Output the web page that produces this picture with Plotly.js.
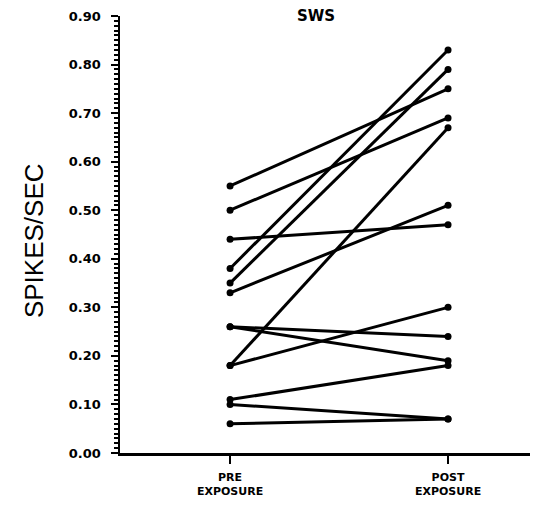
<!DOCTYPE html>
<html><head><meta charset="utf-8">
<script src="https://cdn.plot.ly/plotly-3.0.1.min.js"></script>
<style>html,body{margin:0;padding:0;background:#fff}#chart{width:550px;height:514px}</style>
</head><body><div id="chart"></div>
<script>
const categories = ['PRE<br>EXPOSURE', 'POST<br>EXPOSURE'];
const preValues  = [0.55, 0.50, 0.44, 0.38, 0.35, 0.33, 0.26, 0.26, 0.18, 0.18, 0.11, 0.10, 0.06];
const postValues = [0.75, 0.69, 0.47, 0.83, 0.79, 0.51, 0.24, 0.19, 0.67, 0.30, 0.18, 0.07, 0.07];
const yTickVals  = [0, 0.1, 0.2, 0.3, 0.4, 0.5, 0.6, 0.7, 0.8, 0.9];
const yTickText  = ['0.00','0.10','0.20','0.30','0.40','0.50','0.60','0.70','0.80','0.90'];
const titleText = 'SWS';
const yTitle = 'SPIKES/SEC';

const traces = preValues.map((p, i) => ({
  x: [0, 1], y: [p, postValues[i]],
  type: 'scatter', mode: 'lines+markers',
  line: {color: '#000', width: 3},
  marker: {color: '#000', size: 7},
  hoverinfo: 'skip', showlegend: false, cliponaxis: false
}));

const layout = {
  width: 550, height: 514,
  margin: {l: 120, r: 20, t: 16, b: 61},
  paper_bgcolor: '#fff', plot_bgcolor: '#fff',
  showlegend: false,
  xaxis: {
    range: [-0.505, 1.376], showgrid: false, zeroline: false,
    showline: true, linecolor: '#000', linewidth: 2.5,
    tickmode: 'array', tickvals: [0, 1], ticktext: categories,
    ticks: 'outside', ticklen: 8, tickwidth: 2, tickcolor: '#000',
    tickfont: {family: 'DejaVu Sans', size: 11, color: '#000', weight: 'bold'},
    ticklabelstandoff: 4
  },
  yaxis: {
    range: [0, 0.9], showgrid: false, zeroline: false,
    showline: true, linecolor: '#000', linewidth: 2.5,
    tickmode: 'array', tickvals: yTickVals, ticktext: yTickText,
    ticks: 'outside', ticklen: 7, tickwidth: 2, tickcolor: '#000',
    tickfont: {family: 'DejaVu Sans', size: 13, color: '#000', weight: 'bold'}, ticklabelstandoff: 7,
    minor: {dtick: 0.01, ticks: 'outside', ticklen: 4, tickwidth: 2, tickcolor: '#000', showgrid: false}
  },
  annotations: [
    {text: titleText, xref: 'paper', yref: 'paper', x: 0.478, y: 1.0, xanchor: 'center', yanchor: 'middle',
     showarrow: false, font: {family: 'DejaVu Sans', size: 15, color: '#000', weight: 'bold'}},
    {text: yTitle, xref: 'paper', yref: 'paper', x: -0.21, y: 0.487, xanchor: 'center', yanchor: 'middle',
     textangle: -90, showarrow: false, font: {family: 'Liberation Sans', size: 26, color: '#000'}}
  ]
};
Plotly.newPlot('chart', traces, layout, {staticPlot: true, displayModeBar: false});
</script></body></html>
